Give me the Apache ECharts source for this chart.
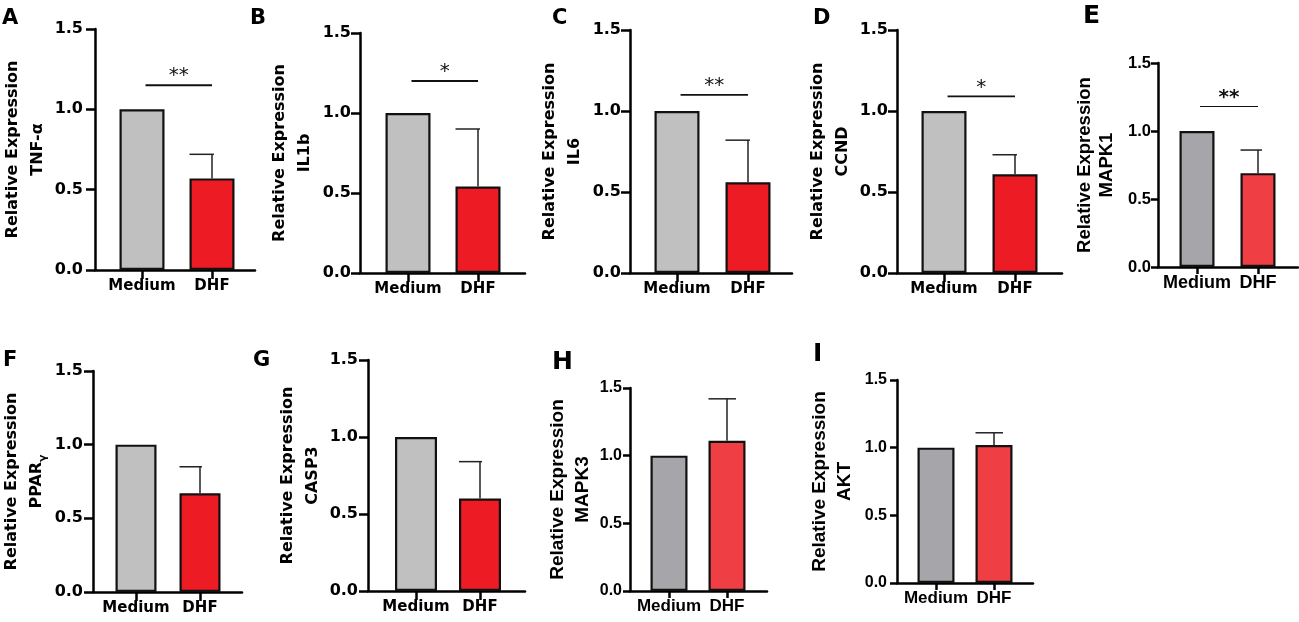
<!DOCTYPE html>
<html>
<head>
<meta charset="utf-8">
<style>
html, body { margin: 0; padding: 0; background: #fff; }
#main { width: 1299px; height: 622px; }
</style>
<script src="https://cdn.jsdelivr.net/npm/echarts@6/dist/echarts.min.js"></script>
</head>
<body>
<div id="main"></div>
<script>
// data
const groups = ['Medium', 'DHF'];
const panelLetters = ['A', 'B', 'C', 'D', 'E', 'F', 'G', 'H', 'I'];
const genes = ['TNF-α', 'IL1b', 'IL6', 'CCND', 'MAPK1', 'PPAR{g|γ}', 'CASP3', 'MAPK3', 'AKT'];
const mediumValues = [1, 1, 1, 1, 1, 1, 1, 1, 1];
const dhfValues = [0.57, 0.54, 0.56, 0.61, 0.69, 0.67, 0.60, 1.11, 1.02];
const dhfErrors = [0.15, 0.36, 0.26, 0.12, 0.17, 0.18, 0.24, 0.31, 0.09];
const sigMarks = ['**', '*', '**', '*', '**', '', '', '', ''];
const sigHeights = [1.15, 1.20, 1.10, 1.09, 1.18, null, null, null, null];
const sigSpan = [0.05, 1.0];

// panel placement in px: y axis x, x axis end, y of 1.5, y of 0, centers of the two bars, bar width
const layout = [
  { ax: 95,   xe: 255,  yt: 29,  y0: 270, c0: 142,  c1: 212,  bw: 45, gap: 45, lx: 2,    ly: 8,   lm: 12, look: 0 },
  { ax: 360,  xe: 525,  yt: 33,  y0: 273, c0: 408,  c1: 478,  bw: 45, gap: 43, lx: 250,  ly: 8,   lm: 9,  look: 0 },
  { ax: 630,  xe: 792,  yt: 30,  y0: 273, c0: 677,  c1: 748,  bw: 45, gap: 43, lx: 552,  ly: 8,   lm: 9,  look: 0 },
  { ax: 897,  xe: 1062, yt: 30,  y0: 273, c0: 944,  c1: 1015, bw: 45, gap: 42, lx: 813,  ly: 8,   lm: 9,  look: 0 },
  { ax: 1158, xe: 1298, yt: 63,  y0: 267, c0: 1197, c1: 1258, bw: 35, gap: 40, lx: 1083, ly: 4,   lm: 7,  look: 1 },
  { ax: 93,   xe: 242,  yt: 371, y0: 592, c0: 136,  c1: 200,  bw: 41, gap: 44, lx: 3,    ly: 350, lm: 10, look: 0 },
  { ax: 368,  xe: 525,  yt: 360, y0: 591, c0: 416,  c1: 480,  bw: 42, gap: 41, lx: 253,  ly: 350, lm: 10, look: 0 },
  { ax: 630,  xe: 767,  yt: 388, y0: 591, c0: 669,  c1: 727,  bw: 37, gap: 35, lx: 552,  ly: 350, lm: 8,  look: 2 },
  { ax: 897,  xe: 1033, yt: 380, y0: 583, c0: 936,  c1: 994,  bw: 37, gap: 40, lx: 813,  ly: 342, lm: 10, look: 2 }
];

// three print styles in the figure
const looks = [
  { font: 'DejaVu Sans', gray: '#c0c0c0', red: '#ed1c24', tickFont: 16, nameFont: 16,
    lineH: 25, catFont: 15, letterFont: 21, tickLen: 9, capR: 2 },
  { font: 'Liberation Sans', gray: '#a6a6aa', red: '#ef3f44', tickFont: 16.5, nameFont: 18.5,
    lineH: 22, catFont: 18, letterFont: 25, tickLen: 7, capR: 4 },
  { font: 'Liberation Sans', gray: '#a6a6aa', red: '#ef3f44', tickFont: 16, nameFont: 19,
    lineH: 25, catFont: 17, letterFont: 25, tickLen: 7, capR: 9 }
];

const W = 1299, H = 622;

const chart = echarts.init(document.getElementById('main'));

let grids = [], xAxes = [], yAxes = [], series = [], titles = [];

layout.forEach((p, i) => {
  const lk = looks[p.look];
  const unit = p.c1 - p.c0;
  titles.push({
    text: panelLetters[i], left: p.lx, top: p.ly, padding: 0,
    textStyle: { fontFamily: 'DejaVu Sans', fontSize: lk.letterFont, fontWeight: 'bold', color: '#000' }
  });
  grids.push({
    left: p.ax, right: W - p.xe, top: p.yt, bottom: H - p.y0,
    containLabel: false, outerBoundsMode: 'none'
  });
  xAxes.push({
    type: 'value', gridIndex: i,
    min: -(p.c0 - p.ax) / unit, max: 1 + (p.xe - p.c1) / unit,
    splitLine: { show: false },
    axisLine: { show: true, onZero: false, lineStyle: { color: '#000', width: 2.5 } },
    axisTick: { show: true, customValues: [0, 1], length: lk.tickLen, lineStyle: { color: '#000', width: 2.5 } },
    axisLabel: {
      show: true, customValues: [0, 1], margin: p.look ? 7 : 9,
      formatter: v => groups[Math.round(v)],
      fontFamily: lk.font, fontSize: lk.catFont, fontWeight: 'bold', color: '#000'
    }
  });
  yAxes.push({
    type: 'value', gridIndex: i, min: 0, max: 1.5, interval: 0.5,
    name: 'Relative Expression\n' + genes[i],
    nameLocation: 'middle', nameRotate: 90, nameGap: p.gap,
    nameTextStyle: {
      fontFamily: lk.font, fontSize: lk.nameFont, fontWeight: 'bold', color: '#000', lineHeight: lk.lineH,
      rich: { g: { fontFamily: lk.font, fontSize: 11, fontWeight: 'bold', color: '#000', verticalAlign: 'bottom' } }
    },
    splitLine: { show: false },
    axisLine: { show: true, onZero: false, lineStyle: { color: '#000', width: 2.5 } },
    axisTick: { show: true, length: lk.tickLen, lineStyle: { color: '#000', width: 2.5 } },
    axisLabel: {
      margin: p.lm, formatter: v => v.toFixed(1),
      fontFamily: lk.font, fontSize: lk.tickFont, fontWeight: 'bold', color: '#000'
    }
  });

  series.push({
    type: 'bar', xAxisIndex: i, yAxisIndex: i, barWidth: p.bw,
    itemStyle: { borderColor: '#111', borderWidth: 2.2 },
    data: [
      { value: [0, mediumValues[i]], itemStyle: { color: lk.gray } },
      { value: [1, dhfValues[i]], itemStyle: { color: lk.red } }
    ],
    z: 2, silent: true
  });

  // upper error bar on the DHF bar
  series.push({
    type: 'custom', xAxisIndex: i, yAxisIndex: i, clip: false, silent: true, z: 3,
    data: [[1, dhfValues[i], dhfErrors[i]]],
    renderItem: (params, api) => {
      const base = api.coord([api.value(0), api.value(1)]);
      const top = api.coord([api.value(0), api.value(1) + api.value(2)]);
      const st = { stroke: '#222', lineWidth: 1.5 };
      return {
        type: 'group', children: [
          { type: 'line', shape: { x1: base[0], y1: base[1], x2: top[0], y2: top[1] }, style: st },
          { type: 'line', shape: { x1: top[0] - p.bw / 2, y1: top[1], x2: top[0] + lk.capR, y2: top[1] }, style: st }
        ]
      };
    }
  });

  if (sigMarks[i]) {
    series.push({
      type: 'custom', xAxisIndex: i, yAxisIndex: i, clip: false, silent: true, z: 3,
      data: [[sigSpan[0], sigSpan[1], sigHeights[i]]],
      renderItem: (params, api) => {
        const a = api.coord([api.value(0), api.value(2)]);
        const b = api.coord([api.value(1), api.value(2)]);
        return {
          type: 'group', children: [
            { type: 'line', shape: { x1: a[0], y1: a[1], x2: b[0], y2: b[1] },
              style: { stroke: '#111', lineWidth: p.look ? 1.2 : 1.8 } },
            { type: 'text', x: (a[0] + b[0]) / 2, y: a[1] - 9,
              style: { text: sigMarks[i], fill: '#111', fontFamily: 'DejaVu Sans', fontSize: 20,
                       fontWeight: p.look ? 'bold' : 'normal', align: 'center', verticalAlign: 'middle' } }
          ]
        };
      }
    });
  }
});

chart.setOption({
  animation: false,
  backgroundColor: '#fff',
  textStyle: { fontFamily: 'DejaVu Sans' },
  title: titles,
  grid: grids,
  xAxis: xAxes,
  yAxis: yAxes,
  series: series
});
</script>
</body>
</html>
